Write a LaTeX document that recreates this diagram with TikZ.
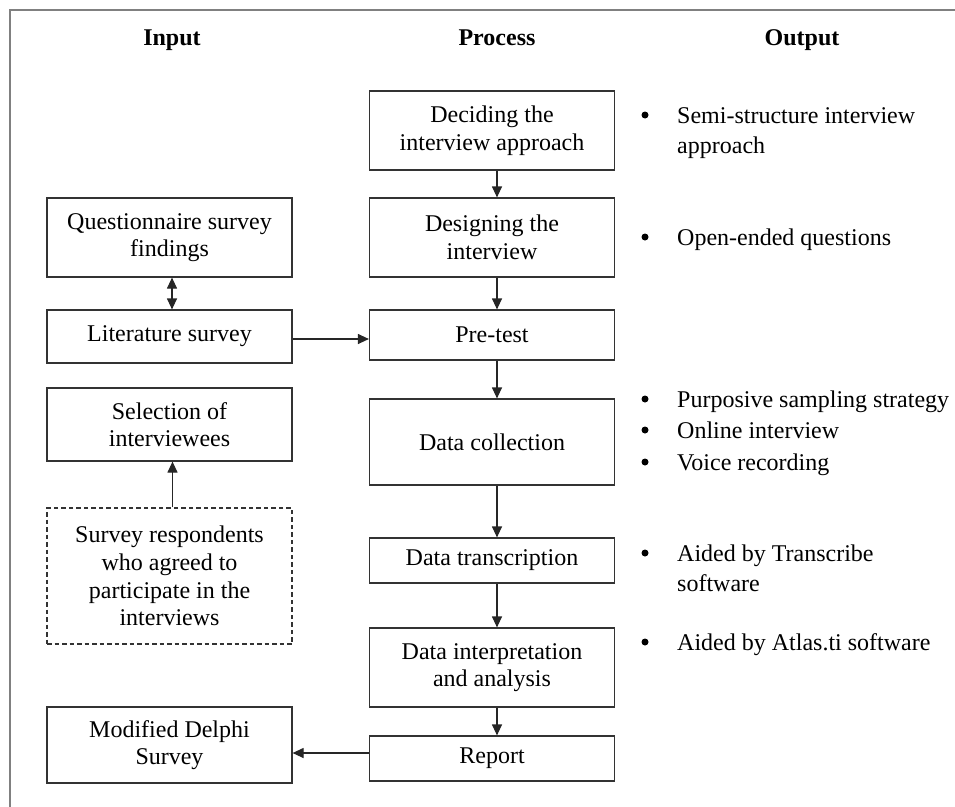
\documentclass[tikz,border=0pt]{standalone}
\usepackage{fontspec}
\setmainfont{Liberation Serif}
\usetikzlibrary{arrows.meta}
\begin{document}
\begin{tikzpicture}[x=1pt,y=-1pt,
  txt/.style={font=\fontsize{24}{27.6}\selectfont, inner sep=0pt},
  hdr/.style={font=\bfseries\fontsize{24}{27.6}\selectfont, inner sep=0pt, anchor=base},
  box/.style={txt, draw=black!80, line width=1.2pt, align=center, minimum width=245pt},
  dbox/.style={box, dashed, dash pattern=on 4.5pt off 3pt},
  arr/.style={-{Triangle[length=11pt,width=10pt]}, line width=1.2pt, draw=black!85},
  darr/.style={{Triangle[length=11pt,width=10pt]}-{Triangle[length=11pt,width=10pt]}, line width=1.2pt, draw=black!85},
  bul/.style={circle, fill=black, inner sep=0pt, minimum size=7pt},
  otxt/.style={txt, anchor=base west}]
\clip (0,0) rectangle (955,806);
\draw[gray, line width=2pt] (10,10) rectangle (970,820);
% headers
\node[hdr] (hin) at (172,45) {Input};
\node[hdr] (hpr) at (497,45) {Process};
\node[hdr] (hout) at (802,45) {Output};
% input column
\node[box, minimum height=79pt] (q) at (169.5,237.5) {Questionnaire survey\\findings};
\node[box, minimum height=53pt] (lit) at (169.5,336.5) {Literature survey};
\node[box, minimum height=73pt] (sel) at (169.5,424.5) {Selection of\\interviewees};
\node[dbox, minimum height=136pt] (resp) at (169.5,576) {Survey respondents\\who agreed to\\participate in the\\interviews};
\node[box, minimum height=76pt] (del) at (169.5,745) {Modified Delphi\\Survey};
% process column
\node[box, minimum height=79pt] (dec) at (492,130.5) {Deciding the\\interview approach};
\node[box, minimum height=79pt] (des) at (492,237.5) {Designing the\\interview};
\node[box, minimum height=50pt] (pre) at (492,335) {Pre-test};
\node[box, minimum height=86pt] (dc) at (492,442) {Data collection};
\node[box, minimum height=45pt] (dt) at (492,560.5) {Data transcription};
\node[box, minimum height=79pt] (di) at (492,667.5) {Data interpretation\\and analysis};
\node[box, minimum height=45pt] (rep) at (492,758.5) {Report};
% process arrows
\foreach \a/\b in {dec/des,des/pre,pre/dc,dc/dt,dt/di,di/rep}
  \draw[arr] ([xshift=5pt]\a.south) -- ([xshift=5pt]\b.north);
% input arrows
\draw[darr] ([xshift=2.5pt]q.south) -- ([xshift=2.5pt]lit.north);
\draw[arr] ([xshift=3pt]resp.north) -- ([xshift=3pt]sel.south);
\coordinate (l1) at ([yshift=-2.5pt]lit.east);
\draw[arr] (l1) -- (l1 -| pre.west);
\coordinate (r1) at ([yshift=5.5pt]rep.west);
\draw[arr] (r1) -- (r1 -| del.east);
% outputs
\node[bul] (b1) at (645,115) {};
\node[otxt] (o1) at (677,123) {Semi-structure interview};
\node[otxt] (o1b) at (677,153) {approach};
\node[bul] (b2) at (645,237) {};
\node[otxt] (o2) at (677,245) {Open-ended questions};
\node[bul] (b3) at (645,399) {};
\node[otxt] (o3) at (677,407) {Purposive sampling strategy};
\node[bul] (b4) at (645,430) {};
\node[otxt] (o4) at (677,438) {Online interview};
\node[bul] (b5) at (645,462) {};
\node[otxt] (o5) at (677,470) {Voice recording};
\node[bul] (b6) at (645,553) {};
\node[otxt] (o6) at (677,561) {Aided by Transcribe};
\node[otxt] (o6b) at (677,591) {software};
\node[bul] (b7) at (645,642) {};
\node[otxt] (o7) at (677,650) {Aided by Atlas.ti software};
\end{tikzpicture}
\end{document}
